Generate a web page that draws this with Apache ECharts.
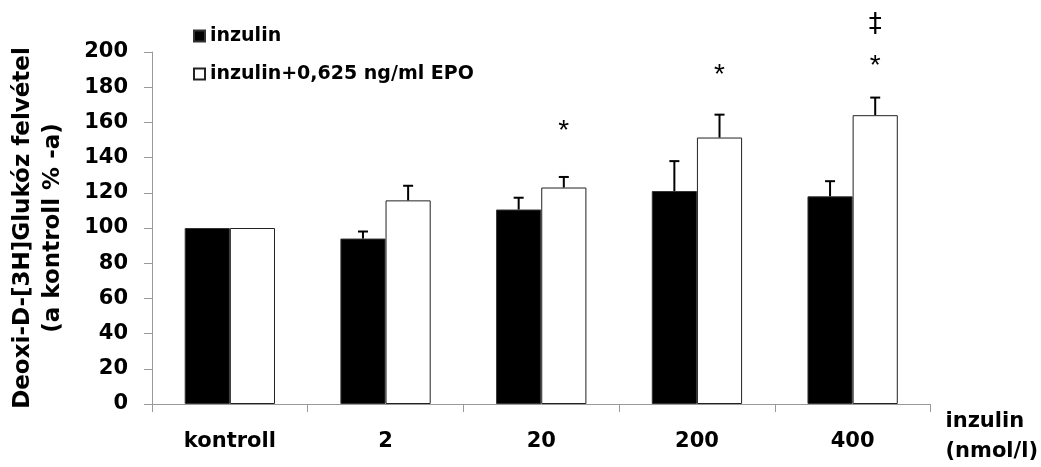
<!DOCTYPE html>
<html>
<head>
<meta charset="utf-8">
<title>Deoxi-D-[3H]Glukóz felvétel</title>
<script src="https://cdn.jsdelivr.net/npm/echarts@6/dist/echarts.min.js"></script>
<style>
  html, body { margin: 0; padding: 0; background: #fff; }
  #chart { width: 1041px; height: 467px; }
</style>
</head>
<body>
<div id="chart"></div>
<script>
// Insulin concentration groups (nmol/l)
const categories = ['kontroll', '2', '20', '200', '400'];

// Glucose uptake, % of control
const insulinValues = [100, 94, 110.5, 121, 118];
const insulinErrors = [0, 4, 6.7, 17, 8.6];
const epoValues = [100, 115.7, 123, 151.4, 164.1];
const epoErrors = [0, 8.3, 6, 13, 10];

// Significance marks above the EPO bars: [category index, height, symbol]
const significance = [
  [2, 155, '*'],
  [3, 187, '*'],
  [4, 192, '*'],
  [4, 215, '\u2021']
];

const seriesNames = ['inzulin', 'inzulin+0,625 ng/ml EPO'];
const FONT = 'DejaVu Sans';
const CAT_GAP = 0.42;

// Offset of a bar centre from its category centre, in pixels
function barShift(api, side) {
  const band = api.size([1, 0])[0];
  const bw = band * (1 - CAT_GAP) / 2;
  return side === 0 ? -bw / 2 : bw / 2;
}

function errorItem(params, api) {
  const idx = api.value(0);
  const val = api.value(1);
  const err = api.value(2);
  const side = api.value(3);
  if (!err) return null;
  const base = api.coord([idx, val]);
  const top = api.coord([idx, val + err]);
  const x = base[0] + barShift(api, side);
  const cap = 5;
  const style = { stroke: '#000', lineWidth: 2 };
  return {
    type: 'group',
    children: [
      { type: 'line', shape: { x1: x, y1: base[1], x2: x, y2: top[1] }, style },
      { type: 'line', shape: { x1: x - cap, y1: top[1], x2: x + cap, y2: top[1] }, style }
    ]
  };
}

function markItem(params, api) {
  const idx = api.value(0);
  const p = api.coord([idx, api.value(1)]);
  const sym = significance[params.dataIndex][2];
  const isStar = sym === '*';
  return {
    type: 'text',
    x: p[0] + barShift(api, 1),
    y: p[1],
    style: {
      text: sym,
      font: isStar ? '28px "Liberation Sans"' : '26px "DejaVu Sans"',
      fill: '#000',
      align: 'center',
      verticalAlign: 'middle'
    }
  };
}

const chart = echarts.init(document.getElementById('chart'), null, { renderer: 'canvas' });

chart.setOption({
  backgroundColor: '#fff',
  animation: false,
  textStyle: { fontFamily: FONT },
  legend: {
    data: seriesNames,
    orient: 'vertical',
    left: 188,
    top: 21,
    itemWidth: 11,
    itemHeight: 11,
    itemGap: 18,
    icon: 'rect',
    textStyle: { fontFamily: FONT, fontWeight: 'bold', fontSize: 19, color: '#000', lineHeight: 20 }
  },
  grid: { left: 150, right: 108, top: 52, bottom: 63, containLabel: false },
  xAxis: {
    type: 'category',
    data: categories,
    boundaryGap: true,
    name: 'inzulin\n(nmol/l)',
    nameLocation: 'end',
    nameGap: 15,
    nameTextStyle: {
      fontFamily: FONT, fontWeight: 'bold', fontSize: 21, color: '#000',
      align: 'left', verticalAlign: 'top', lineHeight: 30, padding: [3, 0, 0, 0]
    },
    axisLine: { lineStyle: { color: '#999', width: 1 } },
    axisTick: { show: true, length: 8, lineStyle: { color: '#999' } },
    axisLabel: { margin: 27, fontFamily: FONT, fontWeight: 'bold', fontSize: 21, color: '#000' }
  },
  yAxis: {
    type: 'value',
    min: 0,
    max: 200,
    interval: 20,
    name: 'Deoxi-D-[3H]Glukóz felvétel\n(a kontroll % -a)',
    nameLocation: 'middle',
    nameRotate: 90,
    nameGap: 84,
    nameTextStyle: { fontFamily: FONT, fontWeight: 'bold', fontSize: 23, color: '#000', lineHeight: 30 },
    splitLine: { show: false },
    axisLine: { show: true, lineStyle: { color: '#999', width: 1 } },
    axisTick: { show: true, length: 8, lineStyle: { color: '#999' } },
    axisLabel: { margin: 24, fontFamily: FONT, fontWeight: 'bold', fontSize: 21, color: '#000' }
  },
  series: [
    {
      name: seriesNames[0],
      type: 'bar',
      data: insulinValues,
      barGap: '0%',
      barCategoryGap: (CAT_GAP * 100) + '%',
      itemStyle: { color: '#000', borderColor: '#333', borderWidth: 1 }
    },
    {
      name: seriesNames[1],
      type: 'bar',
      data: epoValues,
      barGap: '0%',
      barCategoryGap: (CAT_GAP * 100) + '%',
      itemStyle: { color: '#fff', borderColor: '#222', borderWidth: 1 }
    },
    {
      type: 'custom',
      renderItem: errorItem,
      z: 5,
      data: insulinValues.map((v, i) => [i, v, insulinErrors[i], 0])
        .concat(epoValues.map((v, i) => [i, v, epoErrors[i], 1]))
    },
    {
      type: 'custom',
      renderItem: markItem,
      z: 6,
      data: significance.map(s => [s[0], s[1]])
    }
  ]
});
</script>
</body>
</html>
